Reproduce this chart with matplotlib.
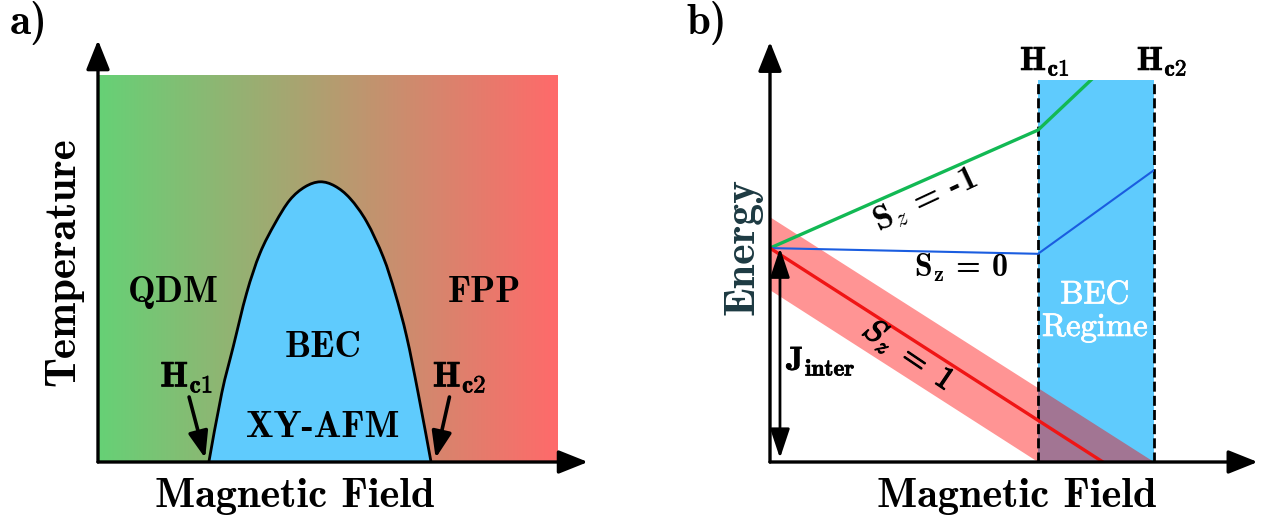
import numpy as np
import matplotlib
matplotlib.use('Agg')
import matplotlib.pyplot as plt
import matplotlib.patheffects as pe
from matplotlib.colors import LinearSegmentedColormap
from matplotlib.path import Path
from matplotlib.patches import PathPatch

plt.rcParams['mathtext.fontset'] = 'cm'
plt.rcParams['axes.unicode_minus'] = False

# ---- panel a: phase diagram (field H, temperature T, arbitrary units) ----
dome_h = [0.241, 0.269, 0.294, 0.323, 0.352, 0.385, 0.417, 0.450, 0.483,
          0.515, 0.548, 0.584, 0.620, 0.646, 0.671, 0.696, 0.724]
dome_t = [0.000, 0.178, 0.298, 0.436, 0.539, 0.617, 0.677, 0.711, 0.724,
          0.713, 0.681, 0.621, 0.530, 0.436, 0.324, 0.178, 0.000]
phase_labels = ['QDM', 'FPP', 'BEC', 'XY-AFM']
phase_pos = [(0.163, 0.439), (0.841, 0.439), (0.489, 0.295), (0.489, 0.090)]

# ---- panel b: Zeeman-split levels (field H, energy E, arbitrary units) ----
hc1 = 0.698
hc2 = 1.0
green_h = [0.0, 0.698, 0.836]
green_e = [0.560, 0.869, 1.0]
blue_h = [0.0, 0.698, 1.0]
blue_e = [0.560, 0.545, 0.764]
red_h = [0.0, 0.867]
red_e = [0.560, 0.0]
band_h = [0.0, 1.0, 0.698, 0.0]
band_e = [0.641, 0.0, 0.0, 0.450]
j_inter = 0.560

BLUE = '#5fcbfd'
BOLD = 'cmb10'
thick = [pe.withStroke(linewidth=0.5, foreground='k')]

fig = plt.figure(figsize=(12.62, 5.2), dpi=100)


def smooth_path(xs, ys):
    # Catmull-Rom through the read points, drawn as cubic Bezier segments
    p = np.column_stack([xs, ys])
    ext = np.vstack([p[0], p, p[-1]])
    verts = [p[0]]
    codes = [Path.MOVETO]
    for i in range(len(p) - 1):
        a, b, c, d = ext[i], ext[i + 1], ext[i + 2], ext[i + 3]
        verts += [b + (c - a) / 6, c - (d - b) / 6, c]
        codes += [Path.CURVE4] * 3
    return Path(verts, codes)


def axis_arrows(ax, xtip, ytip):
    kw = dict(arrowstyle='-|>,head_length=0.75,head_width=0.3', lw=2.4,
              color='k', mutation_scale=24, shrinkA=0, shrinkB=0)
    ax.annotate('', xy=(xtip, 0), xytext=(0, 0), arrowprops=kw,
                annotation_clip=False, zorder=6)
    ax.annotate('', xy=(0, ytip), xytext=(0, 0), arrowprops=kw,
                annotation_clip=False, zorder=6)

# panel a
ax1 = fig.add_axes([98/1262, 58/520, 460/1262, 387/520])
ax1.set_xlim(0, 1)
ax1.set_ylim(0, 1)
ax1.axis('off')
cmap = LinearSegmentedColormap.from_list('qdm_fpp', ['#66d176', '#ff6a6a'])
ax1.imshow(np.linspace(0, 1, 256)[None, :], extent=[0, 1, 0, 1],
           aspect='auto', cmap=cmap, zorder=0)
dome = smooth_path(dome_h, dome_t)
ax1.add_patch(PathPatch(dome, facecolor=BLUE, edgecolor='k', lw=2.0, zorder=2))
for lab, (x, y) in zip(phase_labels, phase_pos):
    ax1.text(x, y, lab, ha='center', va='center', fontsize=26.5,
             fontfamily=BOLD, zorder=5)
ax1.text(0.193, 0.195, r'$\mathbf{H}_{\mathbf{c1}}$', ha='center', va='baseline',
         fontsize=25.5, zorder=5, path_effects=thick)
ax1.text(0.786, 0.195, r'$\mathbf{H}_{\mathbf{c2}}$', ha='center', va='baseline',
         fontsize=25.5, zorder=5, path_effects=thick)
small = dict(arrowstyle='-|>,head_length=0.8,head_width=0.3', lw=2.6,
             color='k', mutation_scale=20, shrinkA=0, shrinkB=0)
ax1.annotate('', xy=(0.233, 0.010), xytext=(0.198, 0.168), arrowprops=small, zorder=5)
ax1.annotate('', xy=(0.734, 0.010), xytext=(0.764, 0.168), arrowprops=small, zorder=5)
axis_arrows(ax1, 1.065, 1.09)
ax1.text(-0.074, 0.517, 'Temperature', rotation=90, ha='center', va='center',
         fontsize=31, fontfamily=BOLD)
ax1.text(0.428, -0.116, 'Magnetic Field', ha='center', va='baseline',
         fontsize=30.5, fontfamily=BOLD)

# panel b
ax2 = fig.add_axes([770/1262, 58/520, 384/1262, 382/520])
ax2.set_xlim(0, 1)
ax2.set_ylim(0, 1)
ax2.axis('off')
ax2.fill_between([hc1, hc2], 0, 1, color=BLUE, lw=0, zorder=1)
ax2.fill(band_h, band_e, color='red', alpha=0.42, lw=0, zorder=2)
for h in (hc1, hc2):
    ax2.plot([h, h], [0, 1], color='k', lw=2.0, ls=(0, (3.6, 1.5)),
             clip_on=False, zorder=3)
ax2.plot(green_h, green_e, color='#12b954', lw=2.4, zorder=4)
ax2.plot(blue_h, blue_e, color='#1a5de0', lw=1.5, zorder=4)
ax2.plot(red_h, red_e, color='#f01515', lw=2.4, zorder=4)
dbl = dict(arrowstyle='<|-|>,head_length=0.9,head_width=0.3', lw=2.0,
           color='k', mutation_scale=20, shrinkA=0, shrinkB=0)
ax2.annotate('', xy=(0.026, 0.010), xytext=(0.026, j_inter), arrowprops=dbl, zorder=5)
axis_arrows(ax2, 1.27, 1.10)

ax2.text(0.716, 1.026, r'$\mathbf{H}_{\mathbf{c1}}$', ha='center', va='baseline',
         fontsize=24, path_effects=thick)
ax2.text(1.021, 1.026, r'$\mathbf{H}_{\mathbf{c2}}$', ha='center', va='baseline',
         fontsize=24, path_effects=thick)
ax2.text(0.404, 0.686, r'$\mathbf{S}_{z}$ = -1', ha='center', va='center',
         rotation=25, rotation_mode='anchor', fontsize=24.5, fontfamily=BOLD, zorder=5)
ax2.text(0.497, 0.508, r'$\mathbf{S}_{\mathbf{z}}$ = 0', ha='center',
         va='center', fontsize=23, fontfamily=BOLD, zorder=5)
ax2.text(0.360, 0.280, r'$S_z\ =\ 1$', ha='center', va='center',
         rotation=-34, rotation_mode='anchor', fontsize=23, zorder=5,
         path_effects=[pe.withStroke(linewidth=0.9, foreground='k')])
ax2.text(0.133, 0.241, r'$\mathbf{J}_{\mathbf{inter}}$', ha='center', va='baseline',
         fontsize=24, zorder=5, path_effects=thick)
ax2.text(0.846, 0.395, 'BEC\nRegime', ha='center', va='center', color='white',
         fontsize=23.5, fontfamily='cmr10', linespacing=1.15, zorder=5,
         path_effects=[pe.withStroke(linewidth=0.6, foreground='white')])
ax2.text(-0.070, 0.563, 'Energy', rotation=90, ha='center', va='center',
         fontsize=31.5, fontfamily=BOLD, color='#1d3a42')
ax2.text(0.643, -0.118, 'Magnetic Field', ha='center', va='baseline',
         fontsize=30.5, fontfamily=BOLD)

fig.text(10/1262, 1 - 34/520, 'a)', ha='left', va='baseline', fontsize=31, fontfamily=BOLD)
fig.text(686/1262, 1 - 34/520, 'b)', ha='left', va='baseline', fontsize=31, fontfamily=BOLD)

fig.savefig('out.png', dpi=100)
